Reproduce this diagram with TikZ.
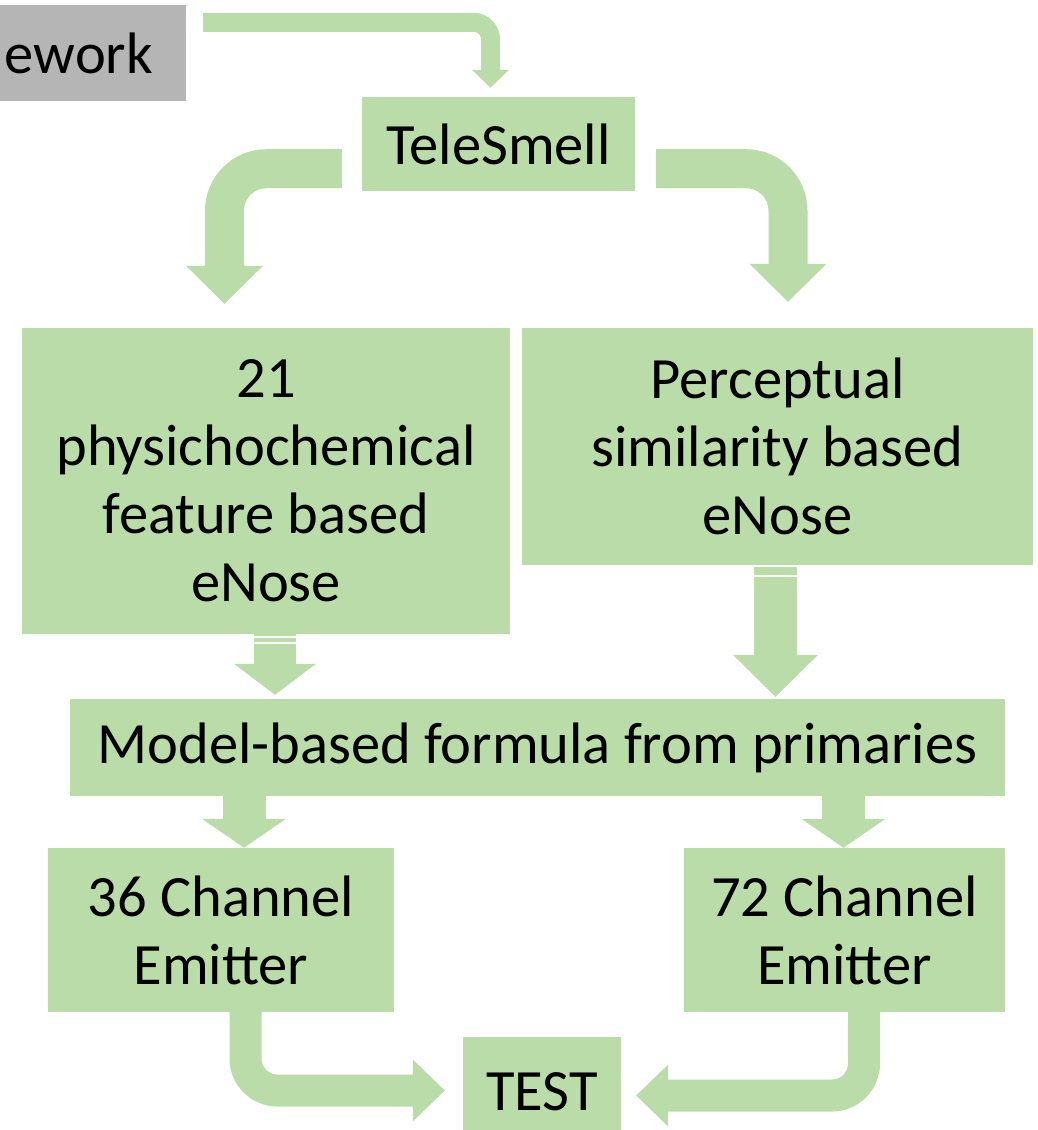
\documentclass[tikz,border=0pt]{standalone}
\usepackage{fontspec}
\setmainfont{Carlito}
\usetikzlibrary{arrows.meta}
\definecolor{leaf}{RGB}{186,220,168}
\definecolor{shade}{RGB}{181,181,181}
\tikzset{
  box/.style={fill=leaf,inner sep=0pt,align=center,font=\fontsize{58.5}{68}\selectfont},
  flow/.style={draw=leaf,line width=#1},
}

\begin{document}
\begin{tikzpicture}[x=1pt,y=-1pt]
\clip (0,0) rectangle (1038,1130);
\node[box,fill=shade,minimum width=186,minimum height=96,text width=176,inner xsep=5pt,align=left] (frame) at (93,53) {ework};
\node[box,minimum width=273,minimum height=94] (tele) at (498.5,144) {TeleSmell};
\node[box,minimum width=488,minimum height=306] (phys) at (266,481) {21\\physichochemical\\feature based\\eNose};
\node[box,minimum width=511,minimum height=237] (perc) at (777.5,446.5) {Perceptual\\similarity based\\eNose};
\node[box,minimum width=935,minimum height=97] (model) at (537.5,747.5) {Model-based formula from primaries};
\node[box,minimum width=346,minimum height=164] (ch36) at (221,930) {36 Channel\\Emitter};
\node[box,minimum width=321,minimum height=164] (ch72) at (844.5,930) {72 Channel\\Emitter};
\node[box,minimum width=158,minimum height=110] (test) at (542,1092) {TEST};
\draw[flow=19,rounded corners=17,-{Triangle[width=37pt,length=18pt,line width=0pt]},shorten >=9pt] ([xshift=17pt,yshift=-17.5pt]frame.north east) -| ([xshift=-8pt]tele.north);
\draw[flow=39,rounded corners=42,-{Triangle[width=77pt,length=38pt,line width=0pt]},shorten >=24pt] ([xshift=-20pt,yshift=22.5pt]tele.south west) -| ([xshift=-41.5pt]phys.north);
\draw[flow=39,rounded corners=42,-{Triangle[width=77pt,length=38pt,line width=0pt]},shorten >=26pt] ([xshift=21pt,yshift=22.5pt]tele.south east) -| ([xshift=10.5pt]perc.north);
\draw[flow=42,-{Triangle[width=82pt,length=31pt,line width=0pt]},shorten >=4pt] ([xshift=9pt]phys.south) -- ([xshift=-262.5pt]model.north);
\draw[flow=43,-{Triangle[width=85pt,length=42pt,line width=0pt]},shorten >=2pt] ([xshift=-2pt]perc.south) -- ([xshift=238pt]model.north);
\draw[white,line width=1.5pt] (254,637) -- (296,637);
\draw[white,line width=1.5pt] (254,643) -- (296,643);
\draw[white,line width=1.5pt] (754,566) -- (797,566);
\draw[white,line width=1.5pt] (754,576) -- (797,576);
\draw[flow=43,-{Triangle[width=84pt,length=29pt,line width=0pt]}] ([xshift=-293.5pt]model.south) -- ([xshift=23pt]ch36.north);
\draw[flow=43,-{Triangle[width=84pt,length=29pt,line width=0pt]}] ([xshift=306pt]model.south) -- ([xshift=-1pt]ch72.north);
\draw[flow=32,rounded corners=32,-{Triangle[width=62pt,length=32pt,line width=0pt]},shorten >=18pt] ([xshift=24.5pt]ch36.south) |- ([yshift=1.5pt]test.west);
\draw[flow=32,rounded corners=32,-{Triangle[width=62pt,length=32pt,line width=0pt]},shorten >=15pt] ([xshift=19.5pt]ch72.south) |- ([yshift=-3.5pt]test.east);
\end{tikzpicture}
\end{document}
